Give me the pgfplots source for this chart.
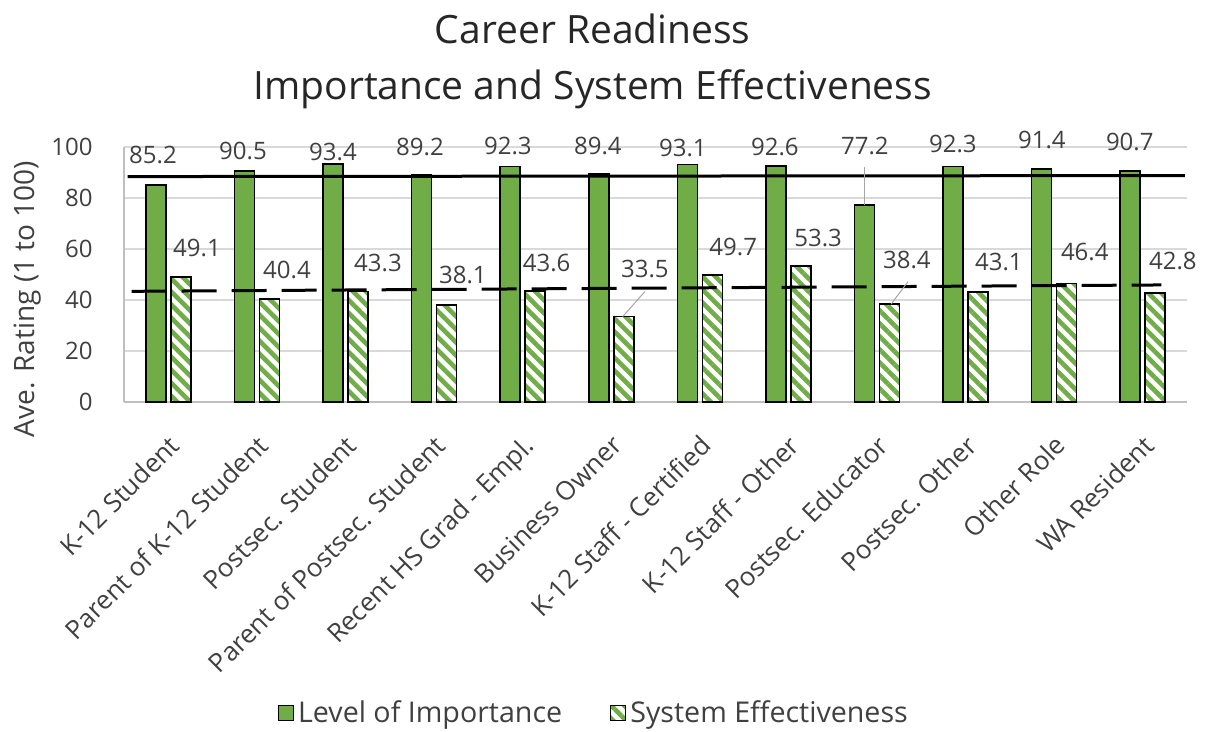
\documentclass[border=0pt]{standalone}
\usepackage{fontspec}
\setmainfont{Open Sans}
\usepackage{pgfplots}
\usepackage{pgfplotstable}
\pgfplotsset{compat=1.18}
\usetikzlibrary{patterns.meta}

\definecolor{cgreen}{HTML}{70AD47}
\definecolor{txt}{HTML}{404040}
\definecolor{gridc}{HTML}{D9D9D9}
\definecolor{axisc}{HTML}{BFBFBF}

\pgfplotsset{sqlegend/.style={legend image code/.code={%
    \draw[##1, line width=0.6pt] (0pt,-3.75pt) rectangle (7.5pt,3.75pt);}}}

% x = category index, imp = Level of Importance, eff = System Effectiveness
\pgfplotstableread{
x  imp   eff
0  85.2  49.1
1  90.5  40.4
2  93.4  43.3
3  89.2  38.1
4  92.3  43.6
5  89.4  33.5
6  93.1  49.7
7  92.6  53.3
8  77.2  38.4
9  92.3  43.1
10 91.4  46.4
11 90.7  42.8
}\bars

% where Excel put the data labels
\pgfplotstableread{
lx      ly     lab
-0.173  96.9   85.2
0.843   98.4   90.5
1.859   98.0   93.4
2.841   100.0  89.2
3.834   100.4  92.3
4.850   100.4  89.4
5.809   99.5   93.1
6.848   100.1  92.6
7.863   100.4  77.2
8.857   101.2  92.3
9.861   102.7  91.4
10.854  102.0  90.7
0.324   60.4   49.1
1.340   51.8   40.4
2.367   54.5   43.3
3.326   49.8   38.1
4.271   54.6   43.6
5.380   52.0   33.5
6.377   60.9   49.7
7.336   64.2   53.3
8.337   55.7   38.4
9.376   54.9   43.1
10.346  58.8   46.4
11.340  55.3   42.8
}\labels

\begin{document}
\begin{tikzpicture}
\path (0,0) rectangle (604.5pt,366pt);
\begin{axis}[
    at={(62pt,165pt)}, anchor=south west,
    scale only axis,
    width=531.5pt, height=127.5pt,
    xmin=-0.5, xmax=11.5,
    ymin=0, ymax=100,
    clip=false,
    axis lines*=left,
    axis line style={axisc, line width=0.8pt},
    major tick length=0pt,
    ytick={0,20,...,100},
    ymajorgrids=true,
    grid style={gridc, line width=0.8pt},
    xtick={0,...,11},
    xticklabels={K-12 Student, Parent of K-12 Student, Postsec. Student,
        Parent of Postsec. Student, Recent HS Grad - Empl., Business Owner,
        K-12 Staff - Certified, K-12 Staff - Other, Postsec. Educator,
        Postsec. Other, Other Role, WA Resident},
    xticklabel style={xshift=-0.5pt, yshift=-15.5pt, rotate=45, anchor=north east,
        inner sep=0pt, font=\fontsize{13}{15}\selectfont, text=txt},
    yticklabel style={inner sep=0pt, xshift=-15.5pt, font=\fontsize{12}{14}\selectfont, text=txt},
    /pgf/number format/assume math mode=true,
    ylabel={Ave. Rating (1 to 100)},
    ylabel style={at={(axis description cs:-0.0903,0.404)}, anchor=center,
        font=\fontsize{14}{16}\selectfont, text=txt},
    title={Career Readiness\\Importance and System Effectiveness},
    title style={at={(axis description cs:0.441,1.29)}, anchor=center, align=center,
        inner sep=0pt, font=\fontsize{19.5}{28}\selectfont, text=black!85},
    legend columns=2,
    legend style={at={(axis description cs:0.443,-1.22)}, anchor=center, draw=none,
        inner sep=0pt, font=\fontsize{14.3}{16}\selectfont, text=txt,
        /tikz/every even column/.append style={column sep=22pt}},
    legend cell align=left,
]
\addplot[ybar, bar width=10pt, bar shift=-6.25pt, fill=cgreen, draw=black,
    line width=0.8pt, sqlegend]
    table[x=x, y=imp] {\bars};
\addplot[ybar, bar width=10pt, bar shift=6.25pt, fill=white, draw=black, line width=0.8pt,
    postaction={pattern={Lines[angle=-45, distance=4.6pt, line width=2.3pt]}, pattern color=cgreen},
    sqlegend]
    table[x=x, y=eff] {\bars};
\legend{Level of Importance, System Effectiveness}

% reference lines
\addplot[black, line width=1.5pt] coordinates {(-0.46,88.4) (11.475,88.8)};
\addplot[black, line width=1.5pt, dash pattern=on 17.5pt off 7.5pt]
    coordinates {(-0.413,43.4) (11.21,45.9)};

% leader lines of moved labels
\addplot[gray!70, line width=0.5pt] coordinates {(7.863,92.3) (7.863,77.2)};
\addplot[gray!70, line width=0.5pt] coordinates {(8.35,47.2) (8.16,38.4)};
\addplot[gray!70, line width=0.5pt] coordinates {(5.38,43.3) (5.13,33.5)};

% data labels
\addplot[draw=none, mark=none, nodes near coords, point meta=explicit symbolic,
    nodes near coords style={anchor=center, inner sep=0pt, text=txt,
        font=\fontsize{12}{14}\selectfont}]
    table[x=lx, y=ly, meta=lab] {\labels};
\end{axis}
\end{tikzpicture}
\end{document}
